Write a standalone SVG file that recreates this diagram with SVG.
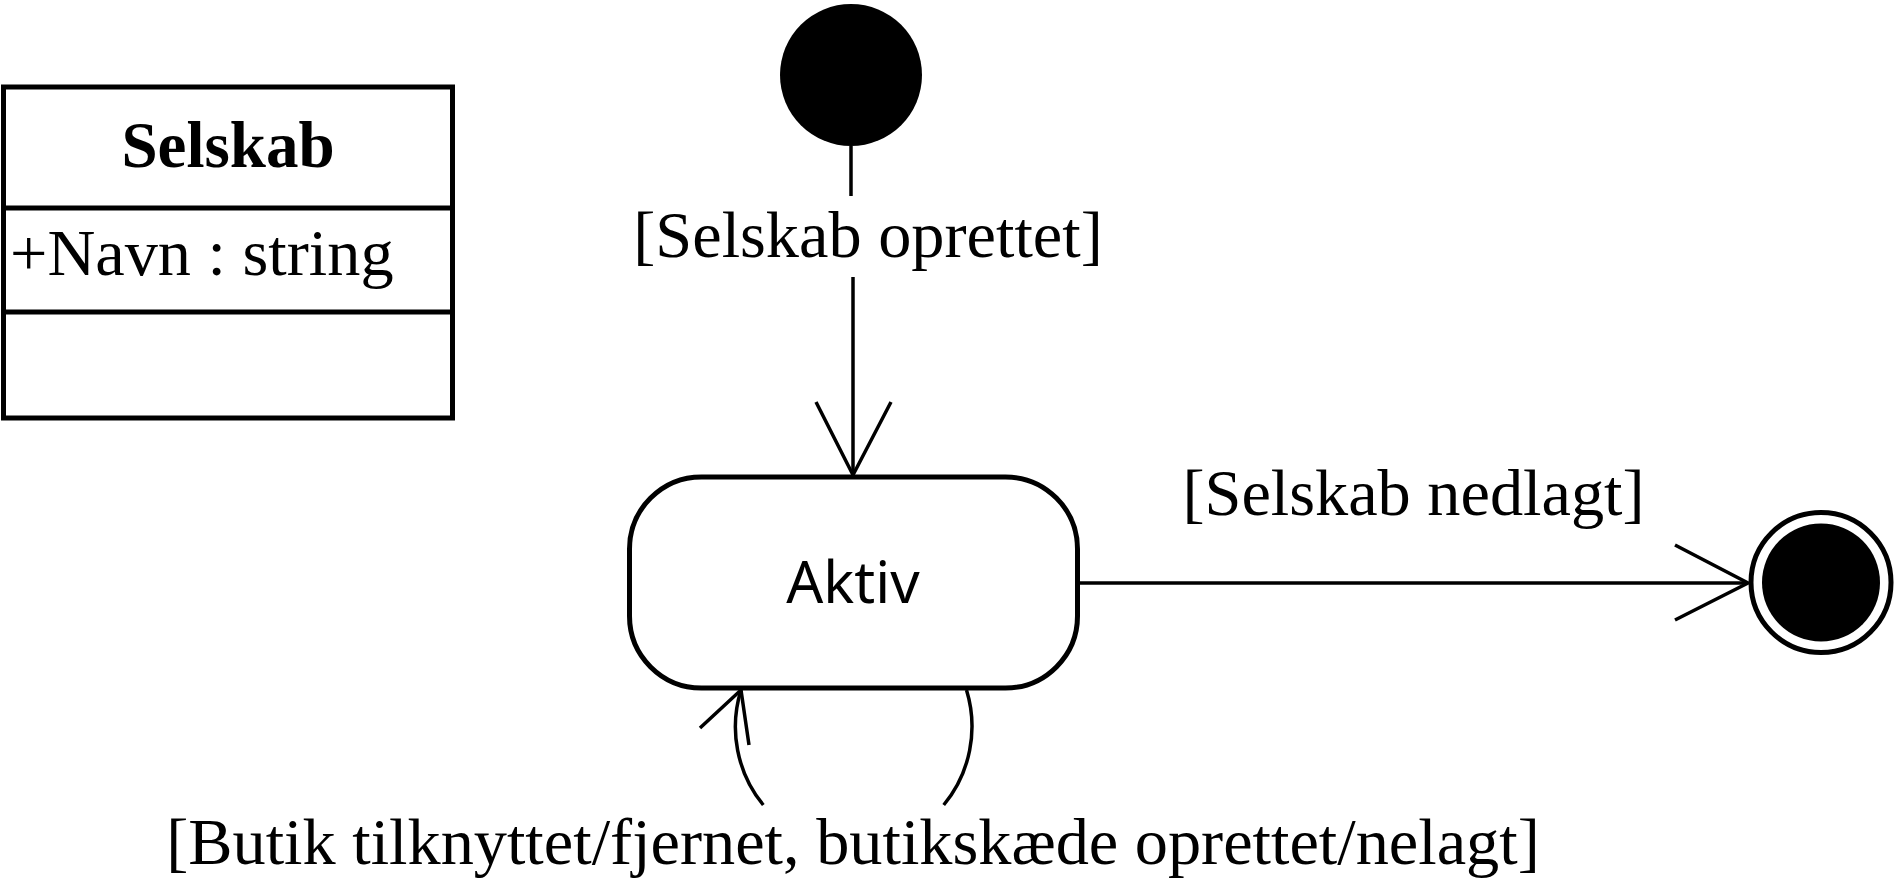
<svg xmlns="http://www.w3.org/2000/svg" width="1895" height="889" viewBox="0 0 1895 889">
<style>
.serif{font-family:"Liberation Serif","Times New Roman",serif;fill:#000}
.lbl{font-size:66.3px}
.box{fill:#fff;stroke:#000;stroke-width:5}
.conn{fill:none;stroke:#000;stroke-width:3.5}
</style>
<rect width="1895" height="889" fill="#fff"/>
<g id="class-selskab">
<rect class="box" x="3.5" y="87" width="449" height="331"/>
<line x1="3.5" y1="208" x2="452.5" y2="208" stroke="#000" stroke-width="5"/>
<line x1="3.5" y1="312" x2="452.5" y2="312" stroke="#000" stroke-width="5"/>
<text class="serif" x="228" y="167" font-size="65" font-weight="bold" text-anchor="middle">Selskab</text>
<text class="serif" x="10" y="275" font-size="66.3">+Navn : string</text>
</g>
<g id="initial">
<circle cx="851" cy="75" r="71" fill="#000"/>
</g>
<g id="state-aktiv">
<rect class="box" x="629.5" y="477" width="448" height="211" rx="72" ry="72" stroke-width="5.5"/>
<text x="853" y="603" font-family="'Noto Sans','Open Sans',sans-serif" font-size="58" text-anchor="middle">Aktiv</text>
</g>
<g id="final">
<circle cx="1821" cy="582.5" r="70" fill="#fff" stroke="#000" stroke-width="5"/>
<circle cx="1821" cy="582.5" r="59" fill="#000"/>
</g>
<g id="connectors">
<line class="conn" x1="851" y1="146" x2="851" y2="196"/>
<line class="conn" x1="853" y1="277" x2="853" y2="475"/>
<polyline class="conn" points="816,402 853,475 891,402"/>
<text class="serif lbl" x="868" y="257" text-anchor="middle">[Selskab oprettet]</text>
<line class="conn" x1="1077.5" y1="583" x2="1748" y2="583"/>
<polyline class="conn" points="1675,545 1748,583 1675,620"/>
<text class="serif lbl" x="1413.5" y="515" text-anchor="middle">[Selskab nedlagt]</text>
<path class="conn" d="M741,690 A118,121 0 0 0 763.3,805"/>
<path class="conn" d="M966.5,690 A118,121 0 0 1 943.7,805"/>
<polyline class="conn" points="700,728 741,690 749,745"/>
<text class="serif lbl" x="853" y="864" text-anchor="middle">[Butik tilknyttet/fjernet, butikskæde oprettet/nelagt]</text>
</g>
</svg>
